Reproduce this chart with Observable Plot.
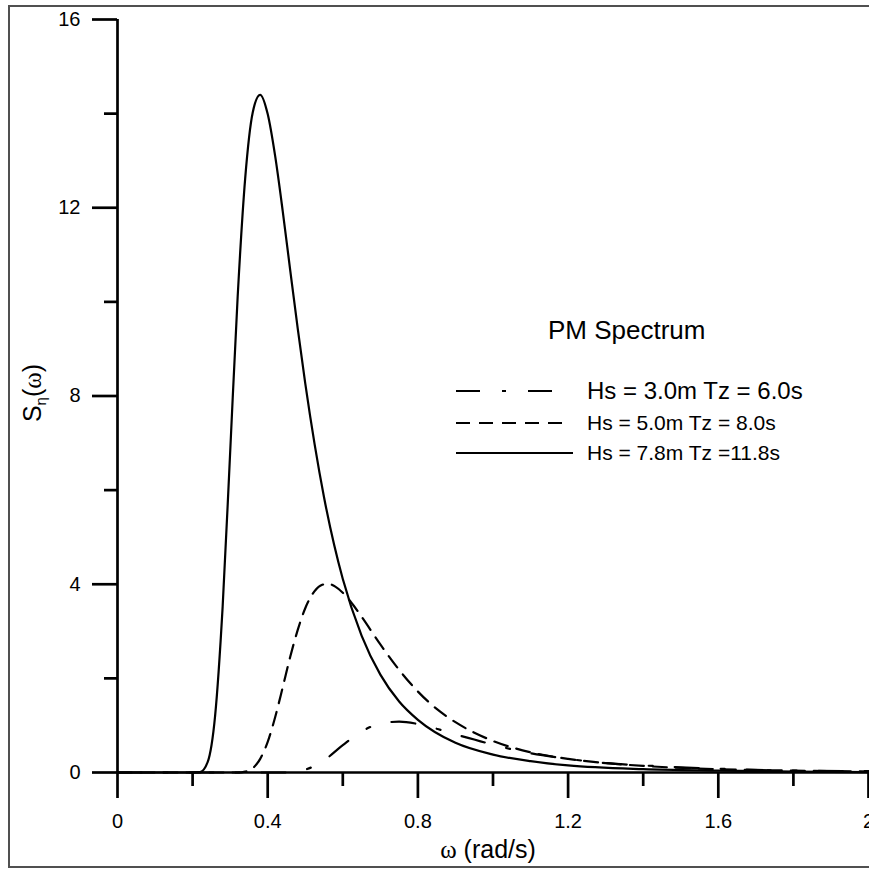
<!DOCTYPE html>
<html>
<head>
<meta charset="utf-8">
<script src="https://cdn.jsdelivr.net/npm/d3@7"></script>
<script src="https://cdn.jsdelivr.net/npm/@observablehq/plot@0.6"></script>
<style>
  html, body { margin: 0; padding: 0; background: #fff; overflow: hidden; }
  #wrap { position: relative; width: 869px; height: 870px; font-family: "Liberation Sans", Arial, sans-serif; color: #000; }
  #frame { position: absolute; left: 8px; top: 5px; width: 900px; height: 859px; border: 2px solid #505050; pointer-events: none; }
  #chart { position: absolute; left: 0; top: 0; }
  #chart svg g[aria-label*="tick"] path,
  #chart svg g[aria-label*="tick"],
  #chart svg g[aria-label^="rule"] line,
  #chart svg g[aria-label^="rule"] { stroke-width: 2.7px !important; }
  .serif { font-family: "Liberation Serif", "Times New Roman", serif; }
  #ylab { position: absolute; left: 33px; top: 393px; transform: translate(-50%, -50%) rotate(-90deg); font-size: 25px; white-space: nowrap; }
  #ylab sub { font-size: 15px; vertical-align: -5px; }
  #xlab { position: absolute; left: 488px; top: 849px; transform: translate(-50%, -50%); font-size: 25px; white-space: nowrap; }
  #legend { position: absolute; left: 455px; top: 0; }
  #legTitle { position: absolute; left: 93px; top: 315px; font-size: 26px; white-space: nowrap; line-height: 30px; }
  .row { position: absolute; left: 0; display: flex; align-items: center; white-space: nowrap; }
  .row svg { display: block; }
</style>
</head>
<body>
<div id="wrap">
  <div id="chart"></div>
  <div id="frame"></div>
  <div id="ylab">S<sub>η</sub>(<span class="serif">ω</span>)</div>
  <div id="xlab"><span class="serif">ω</span> (rad/s)</div>
  <div id="legend"></div>
</div>
<script>
// ---- Data ----
const xTicks = [0, 0.4, 0.8, 1.2, 1.6, 2];
const xMinorTicks = [0.2, 0.6, 1.0, 1.4, 1.8];
const yTicks = [0, 4, 8, 12, 16];
const yMinorTicks = [2, 6, 10, 14];

const seriesNames = ["Hs = 3.0m Tz = 6.0s", "Hs = 5.0m Tz = 8.0s", "Hs = 7.8m Tz =11.8s"];
const legendTitle = "PM Spectrum";

// Hs = 3.0m, Tz = 6.0s (dash-dot)
const omegaA = [0, 0.1, 0.2, 0.3, 0.4, 0.45, 0.50, 0.55, 0.60, 0.65, 0.70, 0.75, 0.80, 0.85, 0.90, 0.95, 1.0, 1.1, 1.2, 1.3, 1.4, 1.5, 1.6, 1.8, 2.0];
const specA  = [0, 0, 0, 0, 0, 0.00, 0.06, 0.26, 0.58, 0.87, 1.04, 1.08, 1.03, 0.93, 0.81, 0.70, 0.59, 0.41, 0.29, 0.20, 0.15, 0.11, 0.08, 0.04, 0.03];

// Hs = 5.0m, Tz = 8.0s (dashed)
const omegaB = [0, 0.1, 0.2, 0.30, 0.32, 0.34, 0.36, 0.38, 0.40, 0.42, 0.44, 0.46, 0.48, 0.50, 0.52, 0.54, 0.56, 0.58, 0.60, 0.62, 0.65, 0.70, 0.75, 0.80, 0.85, 0.90, 1.0, 1.1, 1.2, 1.3, 1.4, 1.6, 1.8, 2.0];
const specB  = [0, 0, 0, 0, 0.00, 0.02, 0.09, 0.29, 0.65, 1.18, 1.81, 2.46, 3.03, 3.49, 3.80, 3.97, 4.01, 3.95, 3.82, 3.64, 3.31, 2.72, 2.18, 1.72, 1.35, 1.07, 0.67, 0.43, 0.29, 0.20, 0.14, 0.07, 0.04, 0.02];

// Hs = 7.8m, Tz = 11.8s (solid)
const omegaC = [0, 0.1, 0.2, 0.22, 0.24, 0.26, 0.28, 0.30, 0.32, 0.34, 0.36, 0.38, 0.40, 0.42, 0.44, 0.46, 0.48, 0.50, 0.55, 0.60, 0.65, 0.70, 0.75, 0.80, 0.90, 1.0, 1.1, 1.2, 1.4, 1.6, 1.8, 2.0];
const specC  = [0, 0, 0, 0.01, 0.22, 1.21, 3.52, 6.80, 10.11, 12.62, 14.02, 14.40, 13.99, 13.09, 11.93, 10.67, 9.43, 8.27, 5.85, 4.11, 2.91, 2.08, 1.51, 1.12, 0.63, 0.38, 0.24, 0.15, 0.07, 0.04, 0.02, 0.01];

// ---- Styles ----
const dashStyles = ["24,22,4,22", "14,9", null];
const legendSampleLen = [105, 113, 117];
const legendFontSize = [24, 21, 21];
const legendRowCenter = [391, 423, 453];

const toRows = (xs, ys) => xs.map((w, i) => ({w, s: ys[i]}));
const dataA = toRows(omegaA, specA);
const dataB = toRows(omegaB, specB);
const dataC = toRows(omegaC, specC);

const chart = Plot.plot({
  width: 869,
  height: 870,
  marginLeft: 117,
  marginRight: 1,
  marginTop: 19,
  marginBottom: 98,
  style: {fontFamily: "Liberation Sans, Arial, sans-serif", background: "transparent", overflow: "visible", color: "#000"},
  x: {domain: [0, 2]},
  y: {domain: [0, 16]},
  marks: [
    Plot.axisX(xMinorTicks, {tickSize: 14, strokeWidth: 2.7, tickFormat: () => "", label: null}),
    Plot.axisX(xTicks, {tickSize: 26, tickPadding: 15, strokeWidth: 2.7, fontSize: 20, tickFormat: d => String(d), label: null}),
    Plot.axisY(yMinorTicks, {tickSize: 13, strokeWidth: 2.7, tickFormat: () => "", label: null}),
    Plot.axisY(yTicks, {tickSize: 25, tickPadding: 12, strokeWidth: 2.7, fontSize: 20, tickFormat: d => String(d), label: null}),
    Plot.ruleY([0], {strokeWidth: 2.7}),
    Plot.ruleX([0], {strokeWidth: 2.7}),
    Plot.line(dataA, {x: "w", y: "s", stroke: "#000", strokeWidth: 2.2, strokeDasharray: dashStyles[0], curve: "monotone-x"}),
    Plot.line(dataB, {x: "w", y: "s", stroke: "#000", strokeWidth: 2.2, strokeDasharray: dashStyles[1], curve: "monotone-x"}),
    Plot.line(dataC, {x: "w", y: "s", stroke: "#000", strokeWidth: 2.2, curve: "monotone-x"})
  ]
});
document.getElementById("chart").appendChild(chart);

// ---- Legend ----
const legend = document.getElementById("legend");
const t = document.createElement("div");
t.id = "legTitle";
t.textContent = legendTitle;
legend.appendChild(t);
seriesNames.forEach((name, i) => {
  const row = document.createElement("div");
  row.className = "row";
  row.style.top = (legendRowCenter[i] - 16) + "px";
  row.style.height = "32px";
  const svg = d3.create("svg").attr("width", 132).attr("height", 32);
  const ln = svg.append("line").attr("x1", 1).attr("x2", 1 + legendSampleLen[i]).attr("y1", 16).attr("y2", 16)
    .attr("stroke", "#000").attr("stroke-width", 2.2);
  if (dashStyles[i]) ln.attr("stroke-dasharray", dashStyles[i]);
  row.appendChild(svg.node());
  const span = document.createElement("span");
  span.textContent = name;
  span.style.fontSize = legendFontSize[i] + "px";
  row.appendChild(span);
  legend.appendChild(row);
});
</script>
</body>
</html>
